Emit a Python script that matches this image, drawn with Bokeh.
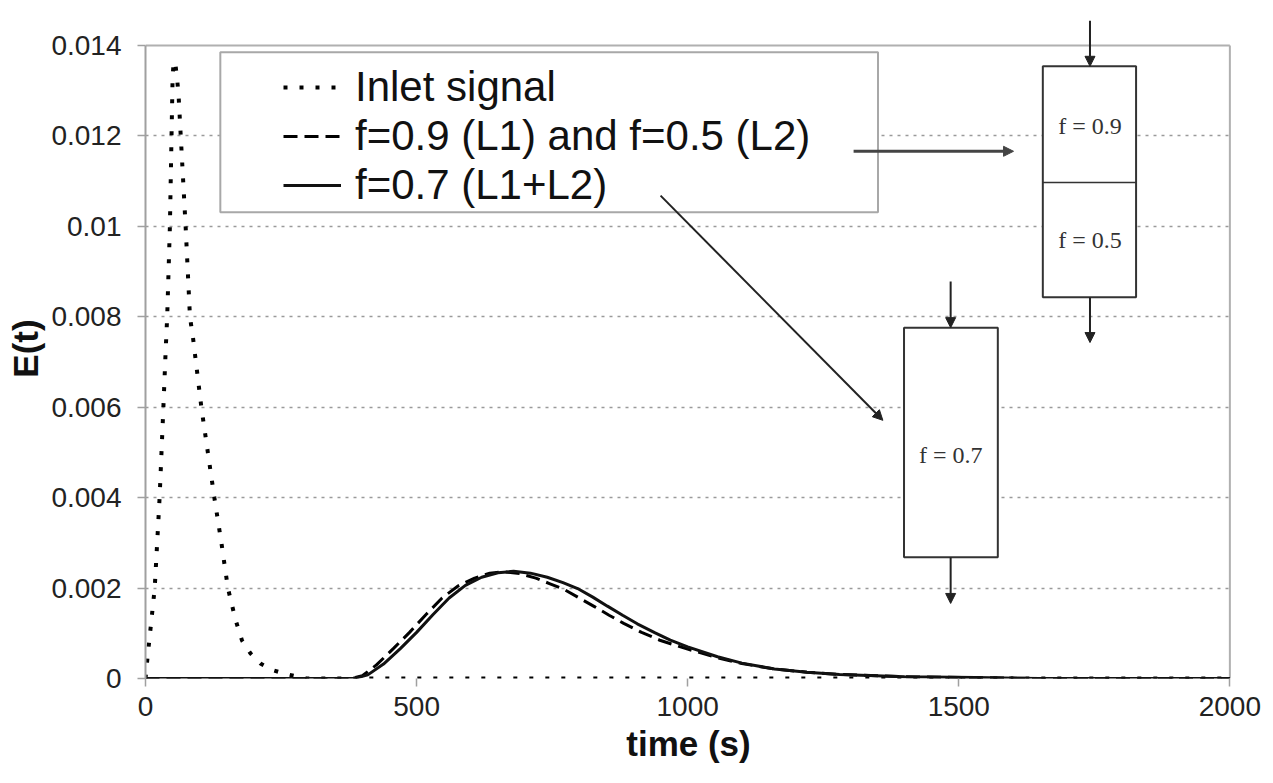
from bokeh.plotting import figure
from bokeh.models import (Range1d, FixedTicker, CustomJSTickFormatter, Legend, LegendItem,
                          Arrow, NormalHead, Label)
from bokeh.embed import file_html
from bokeh.resources import INLINE

# ---- data ----
inlet_t = [0, 4, 11, 17, 26, 33, 37, 40, 45, 48, 50, 52, 55, 58, 61, 65, 74, 82, 88, 95,
           103, 115, 127, 140, 152, 166, 178, 194, 212, 236, 258, 297, 2000]
inlet_E = [0, 0.0005, 0.0013, 0.002, 0.004, 0.006, 0.0072, 0.008, 0.010, 0.012, 0.0133,
           0.01365, 0.0136, 0.0133, 0.0129, 0.012, 0.010, 0.008, 0.0075, 0.0068, 0.006,
           0.005, 0.004, 0.003, 0.002, 0.0013, 0.00084, 0.00055, 0.00033, 0.00018, 0.0001,
           0, 0]

f07_t = [0, 385, 410, 439, 470, 500, 530, 560, 590, 620, 650, 679, 710, 741, 770, 797, 825,
         852, 880, 907, 940, 968, 1000, 1055, 1100, 1160, 1220, 1280, 1400, 1530, 1650, 2000]
f07_E = [0, 0, 0.00008, 0.00032, 0.00066, 0.00102, 0.00141, 0.00178, 0.00206, 0.00224,
         0.00234, 0.00237, 0.00233, 0.00224, 0.00212, 0.00199, 0.0018, 0.0016, 0.0014,
         0.00121, 0.00101, 0.00085, 0.0007, 0.00048, 0.00034, 0.00021, 0.00014, 0.00009,
         0.00004, 0.00002, 0, 0]

f95_t = [0, 380, 400, 426, 457, 487, 517, 547, 577, 607, 635, 661, 690, 720, 745, 772, 800,
         828, 855, 882, 915, 950, 1000, 1055, 1100, 1160, 1220, 1280, 1400, 1530, 1650, 2000]
f95_E = [0, 0, 0.00006, 0.0003, 0.00066, 0.00102, 0.00141, 0.00178, 0.00205, 0.00222,
         0.00233, 0.00236, 0.00232, 0.00222, 0.0021, 0.00197, 0.00178, 0.00159, 0.0014,
         0.00122, 0.00102, 0.00084, 0.00065, 0.00046, 0.00033, 0.00021, 0.00014, 0.00009,
         0.00004, 0.00002, 0, 0]

series_labels = ["Inlet signal", "f=0.9 (L1) and f=0.5 (L2)", "f=0.7 (L1+L2)"]

x_ticks = [0, 500, 1000, 1500, 2000]
y_ticks = [0, 0.002, 0.004, 0.006, 0.008, 0.01, 0.012, 0.014]
y_tick_labels = ["0", "0.002", "0.004", "0.006", "0.008", "0.01", "0.012", "0.014"]
x_max, y_max = 2000, 0.014

box_labels = ["f = 0.9", "f = 0.5", "f = 0.7"]

SANS = "Liberation Sans"
SERIF = "Liberation Serif"

# a little head-room above 0.014 so the inlet arrow of the top reactor can stick out
p = figure(width=1265, height=775, x_range=Range1d(0, 2003), y_range=Range1d(0, 0.014597),
           output_backend="svg", toolbar_location=None,
           min_border_left=145, min_border_right=34, min_border_top=18, min_border_bottom=97)
p.outline_line_color = None
p.background_fill_color = "white"
p.border_fill_color = "white"

# grid
p.xgrid.visible = False
p.ygrid.ticker = FixedTicker(ticks=y_ticks[:-1])
p.ygrid.grid_line_color = "#9a9a9a"
p.ygrid.grid_line_dash = "3 5"
p.ygrid.grid_line_width = 1.6

# axes
for ax in (p.xaxis[0], p.yaxis[0]):
    ax.major_tick_out = 8
    ax.major_tick_in = 0
    ax.minor_tick_line_color = None
    ax.major_tick_line_color = "#a0a0a0"
    ax.major_tick_line_width = 1.5
    ax.major_label_text_font = SANS
    ax.major_label_text_font_size = "28px"
    ax.major_label_text_color = "#222222"
    ax.axis_label_text_font = SANS
    ax.axis_label_text_font_style = "bold"
    ax.axis_label_text_font_size = "35px"
    ax.axis_label_text_color = "#111111"

p.xaxis.ticker = FixedTicker(ticks=x_ticks)
p.xaxis.axis_line_color = None
p.xaxis.major_label_standoff = 10
p.xaxis.axis_label = "time (s)"
p.xaxis.axis_label_standoff = 5

p.yaxis.ticker = FixedTicker(ticks=y_ticks)
p.yaxis.bounds = (0, y_max)
p.yaxis.formatter = CustomJSTickFormatter(args=dict(tvals=y_ticks, tlabels=y_tick_labels), code="""
for (let i = 0; i < tvals.length; i++) { if (Math.abs(tvals[i] - tick) < 1e-9) return tlabels[i]; }
return '';
""")
p.yaxis.axis_line_color = "#a0a0a0"
p.yaxis.axis_line_width = 2
p.yaxis.major_label_standoff = 16
p.yaxis.axis_label = "E(t)"
p.yaxis.axis_label_standoff = 3

# top / right borders of the plot area
p.line([0, x_max], [y_max, y_max], line_color="#b0b0b0", line_width=2)
p.line([x_max, x_max], [0, y_max], line_color="#b0b0b0", line_width=2)

# legend box (drawn as a plain box behind the legend entries)
p.quad(left=[138], right=[1351], bottom=[0.01031], top=[0.01385],
       fill_color="white", line_color="#a8a8a8", line_width=2)

# curves
r_in = p.line(inlet_t, inlet_E, line_color="black", line_width=4, line_dash="4 12")
r_95 = p.line(f95_t, f95_E, line_color="black", line_width=3, line_dash="14 7")
r_07 = p.line(f07_t, f07_E, line_color="#111111", line_width=3)

legend = Legend(items=[LegendItem(label=series_labels[0], renderers=[r_in]),
                       LegendItem(label=series_labels[1], renderers=[r_95]),
                       LegendItem(label=series_labels[2], renderers=[r_07])],
                location=(138, 469), orientation="vertical",
                glyph_width=58, glyph_height=40, label_height=40, label_standoff=14,
                spacing=1, padding=8, margin=0,
                label_text_font=SANS, label_text_font_size="42px", label_text_color="#111111",
                border_line_color=None, background_fill_alpha=0)
p.add_layout(legend, "center")

# reactor diagrams
p.quad(left=[1655, 1399], right=[1827, 1572], bottom=[0.00843, 0.00268], top=[0.01354, 0.00776],
       fill_color="white", line_color="#333333", line_width=2)
p.line([1655, 1827], [0.01097, 0.01097], line_color="#333333", line_width=1.5)

p.add_layout(Label(x=1742, y=0.01221, text=box_labels[0], text_font=SERIF, text_font_size="24px",
                   text_align="center", text_baseline="middle", text_color="#333333"))
p.add_layout(Label(x=1742, y=0.00969, text=box_labels[1], text_font=SERIF, text_font_size="24px",
                   text_align="center", text_baseline="middle", text_color="#333333"))
p.add_layout(Label(x=1485, y=0.00495, text=box_labels[2], text_font=SERIF, text_font_size="24px",
                   text_align="center", text_baseline="middle", text_color="#333333"))

def arrow(x0, y0, x1, y1, w=2, c="#222222"):
    p.add_layout(Arrow(end=NormalHead(size=10, fill_color=c, line_color=c),
                       x_start=x0, y_start=y0, x_end=x1, y_end=y1,
                       line_color=c, line_width=w))

arrow(1742, 0.01455, 1742, 0.01354)
arrow(1742, 0.00843, 1742, 0.00743)
arrow(1306, 0.01166, 1601, 0.01166, w=3, c="#444444")
arrow(1485, 0.00878, 1485, 0.00776)
arrow(1485, 0.00268, 1485, 0.00166)
arrow(950, 0.01068, 1360, 0.00571)

open("out.html", "w").write(file_html(p, INLINE))
